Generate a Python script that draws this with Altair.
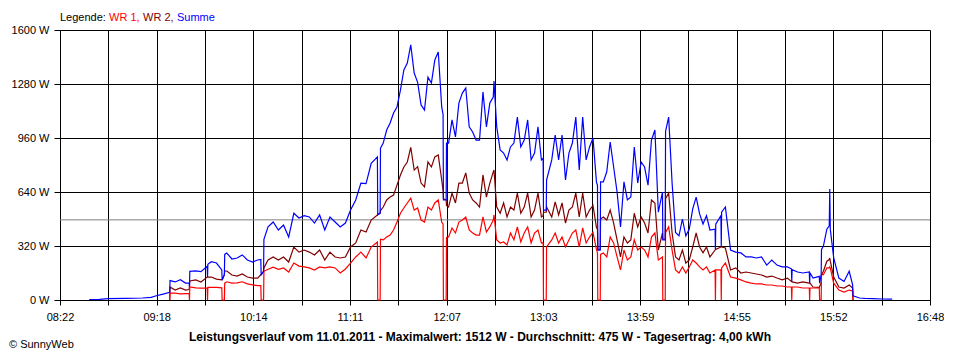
import altair as alt
import pandas as pd

N = None

# time in minutes after midnight (08:22 = 502, 16:48 = 1008)
MINUTES = [
    519, 525, 530, 540, 550, 555, 558, 562, 565.8,
    566, 569, 572, 575, 577.1, 577.3, 577.5, 581, 584, 587.6, 587.8, 588.0, 590, 593,
    596.1, 596.3, 597.6, 597.8, 599, 602, 605, 608, 611, 614, 617, 618.8, 619.0, 620.4, 620.6,
    623, 626, 629, 632, 635, 638, 641, 644, 647, 650, 653, 656, 659, 662, 665, 668, 671, 674,
    677, 680, 683, 686.6, 686.8, 688.2, 688.4,
    690, 692, 694, 696, 698, 700, 702, 704, 706, 708, 710, 712, 714, 716, 718, 720, 722, 724,
    724.8, 725.0, 726.6, 726.8, 728, 730, 732, 734, 736, 738, 740, 742, 744, 746, 748, 750,
    752, 754, 754.4, 756, 758, 760, 762, 764, 766, 768, 770, 772, 774, 776, 778, 780, 782,
    783.0, 783.2, 784.8, 785.0, 788, 790, 792, 794, 796, 798, 800, 802, 804, 806, 808, 810,
    812, 814, 814.6, 814.8, 816.2, 816.4, 818, 820, 822, 824, 826, 828, 830, 832, 834, 836,
    838, 840, 842, 844, 846, 848, 850, 852.4, 852.6, 854.0, 854.2, 856, 858, 860, 862, 864,
    866, 868, 870, 872, 874, 876, 878, 880,
    883.0, 883.2, 883.4, 886.4, 886.6, 886.8, 889, 892, 895, 898, 901, 904, 907, 910, 913,
    916, 919, 922, 925, 927.4, 927.6, 927.8, 931, 934, 937.8, 938.0, 938.2, 940, 943.6,
    943.8, 944.7, 944.9, 946, 948, 949.4, 949.7, 950.0, 952, 955, 958, 961, 963, 963.2,
    967, 970, 975, 980, 986,
]

WR1 = [
    N, N, N, N, N, N, N, N, 0,
    41, 41, 36, 38, 38, 0, 77, 72, 70, 70, 0, 75, 75, 75,
    72, 0, 0, 100, 108, 100, 102, 108, 96, 90, 85, 85, 0, 0, 170,
    182, 195, 182, 190, 166, 219, 201, 196, 190, 178, 196, 190, 196, 190, 160, 184, 219, 255,
    284, 249, 314, 344, 0, 0, 360,
    356, 373, 385, 415, 462, 514, 545, 575, 604, 533, 545, 474, 462, 551, 533, 575, 593, 462,
    450, 0, 0, 370, 373, 427, 397, 462, 474, 492, 415, 397, 385, 385, 492, 403,
    433, 474, 504, 356, 338, 344, 326, 397, 356, 433, 344, 397, 433, 338, 397, 415, 338,
    340, 0, 0, 314, 356, 397, 338, 373, 314, 356, 397, 415, 314, 427, 338, 373,
    400, 300, 280, 0, 0, 270, 279, 255, 373, 338, 255, 178, 296, 237, 255, 356,
    296, 314, 296, 255, 373, 397, 237, 255, 0, 0, 400, 433, 296, 178, 160, 196,
    160, 196, 237, 219, 196, 178, 196, 160,
    178, 0, 178, 178, 0, 190, 219, 136, 130, 119, 107, 100, 95, 95, 89,
    89, 83, 83, 77, 77, 0, 77, 77, 71, 71, 0, 71, 71, 71,
    0, 0, 150, 150, 190, 190, 196, 190, 100, 59, 47, 59, 53, 0,
    N, N, N, N, N,
]

WR2 = [
    N, N, N, N, N, N, N, N, 0,
    77, 59, 71, 59, 62, 80, 113, 119, 107, 136, 136, 136, 136, 124,
    119, 119, 150, 172, 172, 148, 142, 154, 136, 130, 130, 150, 150, 170, 190,
    237, 255, 237, 255, 225, 314, 284, 296, 284, 267, 296, 237, 284, 255, 249, 255, 314, 338,
    415, 403, 474, 504, 505, 515, 530,
    551, 593, 610, 622, 681, 741, 788, 818, 905, 770, 790, 693, 670, 818, 788, 848, 859, 711,
    650, 600, 593, 560, 551, 634, 575, 693, 693, 753, 634, 593, 575, 551, 741, 610,
    693, 759, 770, 551, 514, 575, 492, 551, 533, 634, 514, 551, 634, 492, 533, 634, 492,
    500, 520, 520, 551, 492, 581, 504, 575, 456, 533, 551, 634, 492, 634, 492, 533,
    560, 430, 420, 300, 300, 480, 492, 474, 533, 456, 356, 255, 373, 338, 356, 514,
    433, 492, 456, 397, 593, 575, 296, 397, 360, 360, 600, 634, 397, 255, 237, 296,
    219, 237, 314, 397, 314, 279, 314, 255,
    296, 300, 300, 314, 314, 314, 308, 178, 190, 160, 166, 160, 154, 148, 136,
    142, 130, 119, 130, 110, 110, 107, 100, 107, 100, 100, 100, 77, 75,
    80, 100, 150, 170, 230, 240, 249, 230, 136, 77, 71, 89, 71, 0,
    N, N, N, N, N,
]

SUMME = [
    3, 4, 8, 10, 12, 16, 25, 35, 45,
    115, 107, 120, 100, 100, 80, 170, 172, 168, 200, 136, 212, 227, 219,
    178, 119, 150, 270, 278, 243, 249, 267, 237, 225, 237, 240, 150, 170, 360,
    433, 462, 415, 444, 373, 514, 486, 500, 492, 456, 504, 415, 492, 462, 433, 456, 533, 593,
    693, 690, 810, 848, 505, 515, 900,
    930, 1007, 1049, 1108, 1144, 1244, 1363, 1404, 1512, 1345, 1290, 1156, 1126, 1321, 1286, 1422, 1470, 1144,
    1100, 593, 593, 930, 930, 1067, 966, 1167, 1226, 1256, 1026, 996, 948, 948, 1233, 1026,
    1167, 1203, 1298, 1026, 889, 871, 830, 907, 930, 1084, 907, 948, 1067, 830, 871, 1026, 830,
    840, 533, 533, 711, 830, 978, 830, 978, 711, 871, 930, 1084, 770, 1084, 830, 907,
    960, 700, 680, 296, 296, 700, 700, 760, 936, 788, 640, 433, 700, 593, 610, 907,
    693, 818, 788, 680, 948, 1007, 520, 640, 356, 356, 1000, 1084, 693, 400, 380, 480,
    380, 420, 540, 610, 510, 450, 500, 415,
    420, 300, 450, 500, 314, 520, 551, 296, 284, 279, 255, 255, 249, 255, 207,
    237, 207, 196, 196, 185, 110, 180, 166, 160, 166, 100, 160, 130, 140,
    100, 150, 300, 320, 420, 440, 658, 420, 250, 130, 110, 170, 90, 25,
    12, 10, 8, 6, 5,
]

Y_TICKS = [0, 320, 640, 960, 1280, 1600]
X_START, X_END = 502, 1008
X_LABELS = ["08:22", "", "09:18", "", "10:14", "", "11:11", "", "12:07", "",
            "13:03", "", "13:59", "", "14:55", "", "15:52", "", "16:48"]
AVERAGE = 475
TITLE = ("Leistungsverlauf vom 11.01.2011 - Maximalwert: 1512 W - "
         "Durchschnitt: 475 W - Tagesertrag: 4,00 kWh")
LEGEND_TEXTS = ["Legende:", "WR 1,", "WR 2,", "Summe"]
CREDIT = "© SunnyWeb"

COL_WR1 = "#FF0000"
COL_WR2 = "#800000"
COL_SUM = "#0000FF"
FONT = "Liberation Sans"

step = (X_END - X_START) / (len(X_LABELS) - 1)
x_values = [X_START + i * step for i in range(len(X_LABELS))]
label_expr = ("[" + ",".join("'%s'" % s for s in X_LABELS) + "]"
              + "[round((datum.value - %s) / %s)]" % (X_START, step))


def series_df(vals):
    rows = [{"t": m, "w": v} for m, v in zip(MINUTES, vals) if v is not None]
    return pd.DataFrame(rows)


x_enc = alt.X("t:Q",
              scale=alt.Scale(domain=[X_START, X_END], nice=False, zero=False),
              axis=alt.Axis(values=x_values, labelExpr=label_expr, title=None,
                            grid=True, tickSize=5, labelPadding=6))
y_enc = alt.Y("w:Q",
              scale=alt.Scale(domain=[0, 1600], nice=False),
              axis=alt.Axis(values=Y_TICKS, labelExpr="datum.value + ' W'",
                            title=None, grid=True, tickSize=6, labelPadding=5))

avg = alt.Chart(pd.DataFrame({"w": [AVERAGE]})).mark_rule(
    color="#808080", strokeWidth=1).encode(y=y_enc)


def line(vals, color):
    return alt.Chart(series_df(vals)).mark_line(
        color=color, strokeWidth=1.2, interpolate="linear").encode(x=x_enc, y=y_enc)


def text(s, x, y, color="#000000", size=11, weight="normal", align="left"):
    return alt.Chart(pd.DataFrame({"s": [s]})).mark_text(
        font=FONT, fontSize=size, fontWeight=weight, color=color,
        align=align, baseline="alphabetic").encode(
        text="s:N", x=alt.value(x), y=alt.value(y))


layers = [
    avg,
    line(WR2, COL_WR2),
    line(WR1, COL_WR1),
    line(SUMME, COL_SUM),
    text(LEGEND_TEXTS[0], 0, -9.5),
    text(LEGEND_TEXTS[1], 49, -9.5, COL_WR1),
    text(LEGEND_TEXTS[2], 83, -9.5, COL_WR2),
    text(LEGEND_TEXTS[3], 117, -9.5, COL_SUM),
    text(TITLE, 420, 310.5, size=12, weight="bold", align="center"),
    text(CREDIT, -51, 318),
]

chart = alt.layer(*layers).properties(
    width=870, height=270,
    autosize=alt.AutoSizeParams(type="none"),
    padding={"left": 52, "top": 22, "right": 14, "bottom": 50},
    background="white",
).configure_axis(
    domainColor="black", tickColor="black", gridColor="black", gridOpacity=1,
    labelColor="black", labelFont=FONT, labelFontSize=11, domainWidth=1,
    tickWidth=1, gridWidth=1, labelFlush=False, labelOverlap=False,
).configure_view(stroke=None)

chart.save("out.html", embed_options={"renderer": "svg", "actions": False})
